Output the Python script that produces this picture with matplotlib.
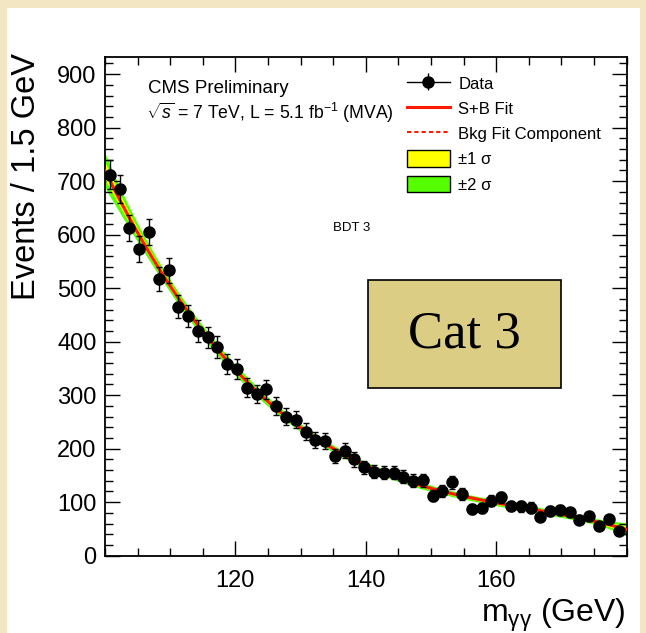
import numpy as np
import matplotlib
matplotlib.use("Agg")
import matplotlib.pyplot as plt
from matplotlib.lines import Line2D
from matplotlib.patches import Patch, Rectangle

plt.rcParams["font.family"] = ["Liberation Sans", "DejaVu Sans"]
plt.rcParams["mathtext.fontset"] = "custom"
plt.rcParams["mathtext.rm"] = "Liberation Sans"
plt.rcParams["mathtext.it"] = "Liberation Sans:italic"

# Diphoton mass spectrum, 1.5 GeV bins from 100 to 180 GeV
bin_low = 100.0
bin_width = 1.5
events = [712, 685, 612, 573, 605, 517, 533, 465, 448, 420,
          408, 390, 358, 349, 314, 302, 311, 280, 260, 254,
          232, 216, 214, 186, 196, 180, 165, 157, 155, 155,
          148, 140, 141, 112, 121, 137, 115, 87, 89, 103,
          109, 93, 92, 90, 73, 84, 85, 81, 67, 74,
          56, 68, 47]
x_ticks = [120, 140, 160]
y_ticks = [0, 100, 200, 300, 400, 500, 600, 700, 800, 900]

events = np.array(events, dtype=float)
mass = bin_low + bin_width * (np.arange(len(events)) + 0.5)
errors = np.sqrt(events)

# Weighted polynomial fit of the background shape with its uncertainty band
t = (mass - 140.0) / 40.0
coef, cov = np.polyfit(t, events, 4, w=1.0 / errors, cov="unscaled")
xf = np.linspace(100, 180, 400)
tf = (xf - 140.0) / 40.0
V = np.vander(tf, 5)
fit = V @ coef
sig = np.sqrt(np.einsum("ij,jk,ik->i", V, cov, V))

fig = plt.figure(figsize=(6.46, 6.33), dpi=100)
fig.patch.set_facecolor("#f3e7c3")
fig.patches.append(Rectangle((7 / 646, 0), 633 / 646, 625 / 633,
                             transform=fig.transFigure, facecolor="white",
                             edgecolor="none", zorder=-5))

ax = fig.add_axes([105 / 646, 1 - 555.7 / 633, 521.7 / 646, 498.7 / 633])
ax.set_xlim(100, 180)
ax.set_ylim(0, 932)

ax.fill_between(xf, fit - 2 * sig, fit + 2 * sig, color="#55ff00", lw=0, zorder=1)
ax.fill_between(xf, fit - sig, fit + sig, color="#ffff00", lw=0, zorder=2)
ax.plot(xf, fit, color="#ff1a00", lw=2.2, zorder=3)
ax.plot(xf, fit, color="#ff1a00", lw=1.5, ls=(0, (2, 1.5)), zorder=3)
ax.errorbar(mass, events, yerr=errors, fmt="o", color="black", ms=8,
            elinewidth=1.0, capsize=2, capthick=1.0, zorder=4)

ax.set_xticks(x_ticks)
ax.set_yticks(y_ticks)
ax.set_xticks(np.arange(100, 181, 5), minor=True)
ax.set_yticks(np.arange(0, 931, 20), minor=True)
ax.tick_params(which="both", direction="in", top=True, right=True,
               labelsize=17, width=1.0, color="black")
ax.tick_params(which="major", length=11)
ax.tick_params(which="minor", length=6)
ax.tick_params(axis="x", pad=10)
ax.tick_params(axis="y", pad=6)
for s in ax.spines.values():
    s.set_linewidth(1.3)

fig.text(27 / 646, 1 - 53 / 633, "Events / 1.5 GeV", rotation=90,
         ha="center", va="top", fontsize=23.5)
fig.text(626 / 646, 1 - 622 / 633, r"m$_{\mathrm{γγ}}$ (GeV)",
         ha="right", va="baseline", fontsize=23)

fig.text(148 / 646, 1 - 93 / 633, "CMS Preliminary", fontsize=13.5, va="baseline")
fig.text(146 / 646, 1 - 119 / 633, r"$\sqrt{s}$ = 7 TeV, L = 5.1 fb$^{-1}$ (MVA)",
         fontsize=12.7, va="baseline")
fig.text(333 / 646, 1 - 228 / 633, "BDT 3", fontsize=9.5, va="center")

# Category label box
box = Rectangle((368 / 646, 1 - 388 / 633), 193 / 646, 108 / 633,
                transform=fig.transFigure, facecolor="#dccd84",
                edgecolor="black", lw=1.2, zorder=5)
fig.patches.append(box)
fig.text(464 / 646, 1 - 334 / 633, "Cat 3", family="Liberation Serif",
         fontsize=38, ha="center", va="center", zorder=6)

h_line = Line2D([], [], color="black", lw=1.0)
h_data = ax.errorbar([], [], yerr=[], fmt="o", color="black", ms=8,
                     elinewidth=1.0, capsize=0)
h_sb = Line2D([], [], color="#ff1a00", lw=2.2)
h_bkg = Line2D([], [], color="#ff1a00", lw=1.5, ls=(0, (2, 1.5)))
h_1s = Patch(facecolor="#ffff00", edgecolor="black", lw=1.0)
h_2s = Patch(facecolor="#55ff00", edgecolor="black", lw=1.0)
leg = ax.legend([(h_line, h_data), h_sb, h_bkg, h_1s, h_2s],
                ["Data", "S+B Fit", "Bkg Fit Component", "±1 σ", "±2 σ"],
                loc="upper left", bbox_to_anchor=((400 - 105) / 521.7, (555.7 - 68) / 498.7),
                frameon=False, fontsize=12, handlelength=2.6, handleheight=1.15,
                labelspacing=0.5, handletextpad=0.5, borderaxespad=0)

fig.savefig("out.png", dpi=100, facecolor=fig.get_facecolor())
